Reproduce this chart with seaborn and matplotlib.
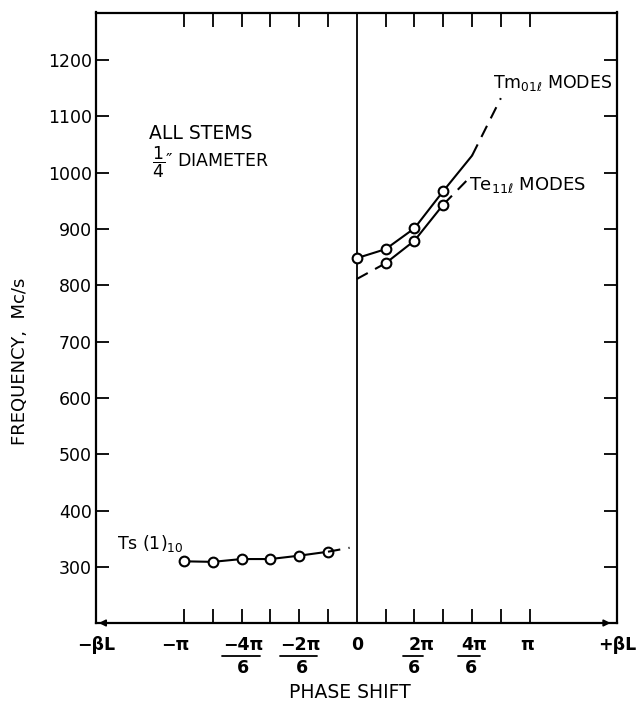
import matplotlib
matplotlib.use("Agg")
import matplotlib.pyplot as plt
import seaborn as sns
import pandas as pd
from matplotlib.transforms import blended_transform_factory
from matplotlib.lines import Line2D

# Phase shift expressed in units of pi/6
ts_x = [-6, -5, -4, -3, -2, -1]
ts_y = [310, 309, 314, 314, 320, 327]
ts_dash_x = [-1, -0.25]
ts_dash_y = [327, 334]

tm_x = [0, 1, 2, 3]
tm_y = [848, 864, 901, 967]
tm_ext_x = [3, 4.0]
tm_ext_y = [967, 1030]
tm_dash_x = [4.0, 5.0]
tm_dash_y = [1030, 1132]

te_x = [1, 2, 3]
te_y = [839, 879, 943]
te_dash_lo_x = [0, 1]
te_dash_lo_y = [811, 839]
te_dash_hi_x = [3, 3.8]
te_dash_hi_y = [943, 985]

y_ticks = [300, 400, 500, 600, 700, 800, 900, 1000, 1100, 1200]
x_labels = ["\u2212\u03b2L", "\u2212\u03c0", "\u22124\u03c0", "\u22122\u03c0", "0",
            "2\u03c0", "4\u03c0", "\u03c0", "+\u03b2L"]
minor_pos = [-6, -5, -4, -3, -2, -1, 1, 2, 3, 4, 5, 6]
frac_den = ["6", "6", "6", "6"]

# label layout (positions of text, not data)
x_label_pos = [-9.05, -6.3, -3.95, -1.95, 0, 2.26, 4.08, 5.9, 9.03]
frac_layout = [(-3.95, -4.03, 0.66), (-1.9, -2.03, 0.64), (1.98, 1.94, 0.35), (3.96, 3.9, 0.38)]

sns.set_theme(style="white")
plt.rcParams['font.family'] = ['DejaVu Sans']
plt.rcParams['mathtext.fontset'] = 'dejavusans'
for k in ['text.color', 'axes.labelcolor', 'xtick.color', 'ytick.color', 'axes.edgecolor']:
    plt.rcParams[k] = 'black'

W, H = 642, 704
L, R, T, B = 96, 617, 12.5, 623
fig = plt.figure(figsize=(W/100, H/100), dpi=100)
ax = fig.add_axes([L/W, 1-B/H, (R-L)/W, (B-T)/H])

mk = dict(marker='o', markersize=7, markerfacecolor='white',
          markeredgecolor='black', markeredgewidth=1.5)
solid = dict(color='black', lw=1.5)
dashed = dict(color='black', lw=1.5, dashes=(6, 4))

def seg(x, y, style, markers=False):
    df = pd.DataFrame({"x": x, "y": y})
    kw = dict(style)
    if markers:
        kw.update(mk)
    sns.lineplot(data=df, x="x", y="y", ax=ax, sort=False, **kw)

seg(ts_x, ts_y, solid, markers=True)
seg(ts_dash_x, ts_dash_y, dashed)
seg(tm_ext_x, tm_ext_y, solid)
seg(tm_dash_x, tm_dash_y, dashed)
seg(te_dash_lo_x, te_dash_lo_y, dashed)
seg(te_dash_hi_x, te_dash_hi_y, dashed)
seg(te_x, te_y, solid, markers=True)
seg(tm_x, tm_y, solid, markers=True)

ax.axvline(0, color='black', lw=1.3, zorder=1)

ax.set_xlim(-9.05, 9.03)
ax.set_ylim(200.5, 1284)

for s in ax.spines.values():
    s.set_color('black')
    s.set_linewidth(1.6)
    s.set_visible(True)

ax.set_yticks(y_ticks)
ax.set_yticklabels([str(v) for v in y_ticks], fontsize=12.5)
ax.tick_params(axis='y', which='major', direction='in', length=9.5, width=1.3,
               left=True, right=True, pad=3)

ax.set_xticks(x_label_pos)
ax.set_xticklabels(x_labels, fontsize=12.5, fontweight='bold')
ax.tick_params(axis='x', which='major', length=0, pad=9)
ax.set_xticks(minor_pos, minor=True)
ax.tick_params(axis='x', which='minor', direction='in', length=10, width=1.3,
               bottom=True, top=True)

ax.set_xlabel("")
ax.set_ylabel("")

trans = blended_transform_factory(ax.transData, ax.transAxes)
for (dx, bx, hw), d in zip(frac_layout, frac_den):
    ax.add_line(Line2D([bx - hw, bx + hw], [-0.054, -0.054], transform=trans,
                       color='black', lw=1.3, clip_on=False))
    ax.text(dx, -0.0745, d, transform=trans, ha='center', va='center', fontsize=12.5,
            fontweight='bold', clip_on=False)

# arrow heads on the phase axis
ax.annotate('', xy=(0.0, 0.0), xytext=(0.035, 0.0), xycoords='axes fraction',
            arrowprops=dict(arrowstyle='-|>', color='black', lw=1.2, mutation_scale=10))
ax.annotate('', xy=(0.993, 0.0), xytext=(0.955, 0.0), xycoords='axes fraction',
            arrowprops=dict(arrowstyle='-|>', color='black', lw=1.2, mutation_scale=10))

ax.text(-7.2, 1069, "ALL STEMS", fontsize=13.5, ha='left', va='center')
ax.text(-7.12, 1019, "$\\dfrac{1}{4}$\u2033 DIAMETER", fontsize=12.5,
        ha='left', va='center')
ax.text(-8.33, 342, r"Ts (1)$_{10}$", fontsize=12.5, ha='left', va='center')
ax.text(4.72, 1159, r"Tm$_{01\ell}$ MODES", fontsize=12.5, ha='left', va='center')
ax.text(3.89, 977, r"Te$_{11\ell}$ MODES", fontsize=13, ha='left', va='center')

fig.text(20/W, 1-361/H, "FREQUENCY,  Mc/s", rotation=90, ha='center', va='center', fontsize=13)
fig.text(350/W, 1-693/H, "PHASE SHIFT", ha='center', va='center', fontsize=13.5)

fig.savefig("out.png", dpi=100, facecolor='white')
